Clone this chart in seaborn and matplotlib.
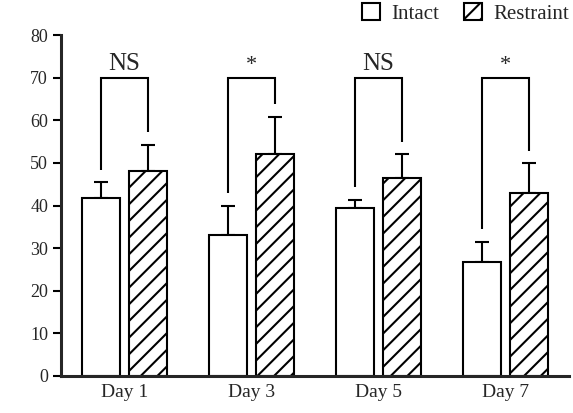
import matplotlib
matplotlib.use("Agg")
import numpy as np
import pandas as pd
import matplotlib.pyplot as plt
import seaborn as sns
from matplotlib.patches import Patch

days = ["Day 1", "Day 3", "Day 5", "Day 7"]
groups = ["Intact", "Restraint"]
intact_mean = [41.7, 33.1, 39.3, 26.8]
intact_sd = [3.7, 6.8, 2.0, 4.6]
restraint_mean = [48.2, 52.1, 46.5, 42.9]
restraint_sd = [6.0, 8.7, 5.5, 7.0]
signif = ["NS", "*", "NS", "*"]
y_ticks = [0, 10, 20, 30, 40, 50, 60, 70, 80]

sns.set_style("ticks")
plt.rcParams["font.family"] = ["Liberation Serif", "DejaVu Serif"]
plt.rcParams["hatch.linewidth"] = 1.5
plt.rcParams["hatch.color"] = "black"

df = pd.DataFrame({
    "day": days * 2,
    "group": [groups[0]] * 4 + [groups[1]] * 4,
    "value": intact_mean + restraint_mean,
    "sd": intact_sd + restraint_sd,
})

fig = plt.figure(figsize=(5.73, 4.13), dpi=100)
ax = fig.add_axes([61 / 573, 1 - 376 / 413, 508 / 573, 341 / 413])

sns.barplot(data=df, x="day", y="value", hue="group", order=days, hue_order=groups,
            palette={"Intact": "white", "Restraint": "white"}, saturation=1,
            edgecolor="black", linewidth=1.5, width=0.734, gap=0.19,
            errorbar=None, legend=False, ax=ax)

# hatch the restraint bars, add one-sided error bars
centers = {}
for cont, g in zip(ax.containers, groups):
    sub = df[df["group"] == g]
    xs = []
    for p in cont.patches:
        p.set_zorder(2)
        if g == "Restraint":
            p.set_hatch("//")
        xs.append(p.get_x() + p.get_width() / 2)
    xs = np.array(xs)
    centers[g] = xs
    ax.errorbar(xs, sub["value"], yerr=[np.zeros(len(sub)), sub["sd"]], fmt="none",
                ecolor="black", elinewidth=1.5, capsize=4.7, capthick=1.5, zorder=1)

# significance brackets
bracket_top = 70
for i, s in enumerate(signif):
    x1, x2 = centers["Intact"][i], centers["Restraint"][i]
    y1 = intact_mean[i] + intact_sd[i] + 3
    y2 = restraint_mean[i] + restraint_sd[i] + 3
    ax.plot([x1, x1, x2, x2], [y1, bracket_top, bracket_top, y2], color="black",
            lw=1.5, solid_joinstyle="miter", solid_capstyle="butt")
    ax.text((x1 + x2) / 2, 71.9, s, ha="center", va="baseline",
            fontsize=18 if s == "NS" else 16)

ax.set_xlim(-0.5, 3.5)
ax.set_ylim(0, 80)
ax.set_yticks(y_ticks)
ax.set_xlabel("")
ax.set_ylabel("")
sns.despine(ax=ax)
for sp in ["left", "bottom"]:
    ax.spines[sp].set_linewidth(2.2)
ax.tick_params(axis="y", length=5.8, width=1.5, pad=3.5, labelsize=13, color="black")
ax.tick_params(axis="x", length=0, pad=6, labelsize=14)

handles = [Patch(facecolor="white", edgecolor="black", lw=1.5),
           Patch(facecolor="white", edgecolor="black", lw=1.5, hatch="//")]
fig.legend(handles, groups, loc="upper right", bbox_to_anchor=(0.993, 0.992), ncol=2,
           frameon=False, fontsize=15, handlelength=0.85, handleheight=0.85,
           handletextpad=0.55, columnspacing=1.2, borderpad=0, borderaxespad=0)

fig.savefig("out.png", dpi=100)
